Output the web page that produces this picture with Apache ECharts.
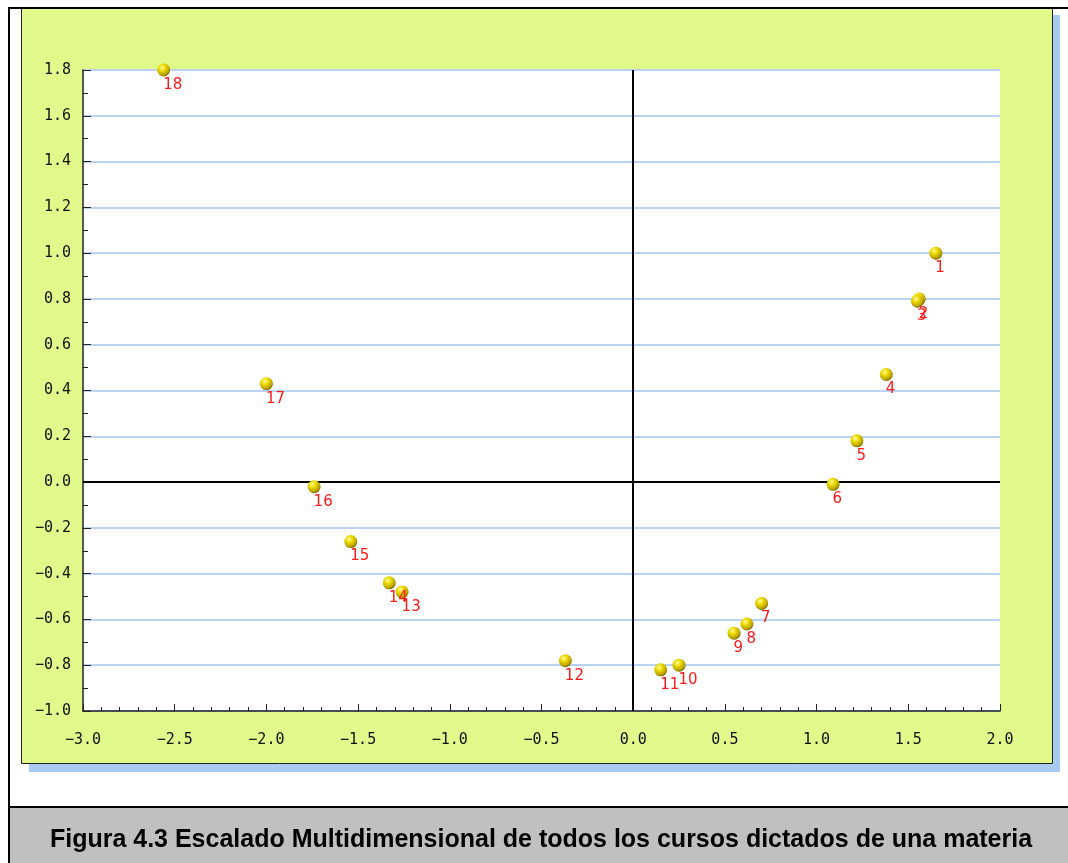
<!DOCTYPE html>
<html>
<head>
<meta charset="utf-8">
<script src="https://cdn.jsdelivr.net/npm/echarts@6/dist/echarts.min.js"></script>
<style>
html, body { margin: 0; padding: 0; background: #fff; }
#chart { width: 1068px; height: 863px; }
</style>
</head>
<body>
<div id="chart"></div>
<script>
// cursos (etiquetas) y coordenadas del escalado
var cursos = ['1', '2', '3', '4', '5', '6', '7', '8', '9', '10', '11', '12', '13', '14', '15', '16', '17', '18'];
var dimX = [1.65, 1.56, 1.55, 1.38, 1.22, 1.09, 0.70, 0.62, 0.55, 0.25, 0.15, -0.37, -1.26, -1.33, -1.54, -1.74, -2.00, -2.56];
var dimY = [1.00, 0.80, 0.79, 0.47, 0.18, -0.01, -0.53, -0.62, -0.66, -0.80, -0.82, -0.78, -0.48, -0.44, -0.26, -0.02, 0.43, 1.80];
var captionText = 'Figura 4.3 Escalado Multidimensional de todos los cursos dictados de una materia';

var byId = function(id) {
	return document.getElementById(id);
};

var puntos = [];
for (var i = 0; i < cursos.length; i++) {
	puntos.push({ name: cursos[i], value: [dimX[i], dimY[i]] });
}

var monoLabel = {
	fontFamily: 'DejaVu Sans Mono',
	fontSize: 15,
	color: '#111'
};
var fmt = function(v) {
	return v.toFixed(1).replace('-', '\u2212');
};

var chart = echarts.init(byId('chart'));
chart.setOption({
	backgroundColor: '#ffffff',
	animation: false,
	graphic: [
		// sombra azul del panel
		{ type: 'rect', z: -20, shape: { x: 29, y: 15, width: 1031, height: 757 }, style: { fill: '#a9cbf3' } },
		// panel verde
		{ type: 'rect', z: -19, shape: { x: 21.5, y: 8.5, width: 1031, height: 755 }, style: { fill: '#e0f98a', stroke: '#222', lineWidth: 1 } },
		// marco exterior
		{ type: 'line', z: -18, shape: { x1: 9, y1: 7, x2: 9, y2: 863 }, style: { stroke: '#000', lineWidth: 2 } },
		{ type: 'line', z: -18, shape: { x1: 8, y1: 8, x2: 1068, y2: 8 }, style: { stroke: '#000', lineWidth: 2 } },
		// pie de figura
		{ type: 'rect', z: -18, shape: { x: 10, y: 808, width: 1058, height: 55 }, style: { fill: '#c0c0c0' } },
		{ type: 'line', z: -17, shape: { x1: 8, y1: 807, x2: 1068, y2: 807 }, style: { stroke: '#000', lineWidth: 2 } },
		{
			type: 'text', z: -16, x: 541, y: 840,
			style: {
				text: captionText,
				fontFamily: 'Liberation Sans, Arial',
				fontWeight: 'bold',
				fontSize: 25,
				fill: '#000',
				align: 'center',
				verticalAlign: 'middle'
			}
		}
	],
	grid: {
		left: 83,
		top: 70,
		width: 917,
		height: 641,
		show: true,
		backgroundColor: '#ffffff',
		borderWidth: 0
	},
	xAxis: [{
		type: 'value',
		min: -3,
		max: 2,
		interval: 0.5,
		axisLine: { onZero: false, lineStyle: { color: '#222', width: 1.5 } },
		axisTick: { inside: true, length: 7, lineStyle: { color: '#222' } },
		minorTick: { show: true, splitNumber: 5, length: 4, lineStyle: { color: '#222' } },
		splitLine: { show: false },
		axisLabel: Object.assign({ margin: 22, formatter: fmt }, monoLabel)
	}],
	yAxis: [{
		type: 'value',
		min: -1,
		max: 1.8,
		interval: 0.2,
		axisLine: { show: true, onZero: false, lineStyle: { color: '#222', width: 1.5 } },
		axisTick: { show: true, inside: true, length: 8, lineStyle: { color: '#222' } },
		minorTick: { show: true, splitNumber: 2, length: 5, lineStyle: { color: '#222' } },
		splitLine: { show: true, lineStyle: { color: '#b8d3f3', width: 2 } },
		axisLabel: Object.assign({ margin: 12, formatter: fmt }, monoLabel)
	}],
	series: [{
		name: 'cursos',
		type: 'scatter',
		symbol: 'circle',
		symbolSize: 13,
		data: puntos,
		itemStyle: {
			opacity: 1,
			color: {
				type: 'radial', x: 0.38, y: 0.32, r: 0.7,
				colorStops: [
					{ offset: 0, color: '#fffbb0' },
					{ offset: 0.35, color: '#f0dc00' },
					{ offset: 0.8, color: '#b8a200' },
					{ offset: 1, color: '#7a6a00' }
				]
			}
		},
		label: {
			show: true,
			position: [6, 14],
			align: 'left',
			verticalAlign: 'top',
			formatter: '{b}',
			color: '#ff1a1a',
			fontFamily: 'DejaVu Sans',
			fontSize: 15
		},
		markLine: {
			silent: true,
			symbol: 'none',
			label: { show: false },
			lineStyle: { color: '#000', width: 2, type: 'solid' },
			data: [{ xAxis: 0 }, { yAxis: 0 }]
		},
		z: 5
	}]
});
</script>
</body>
</html>
